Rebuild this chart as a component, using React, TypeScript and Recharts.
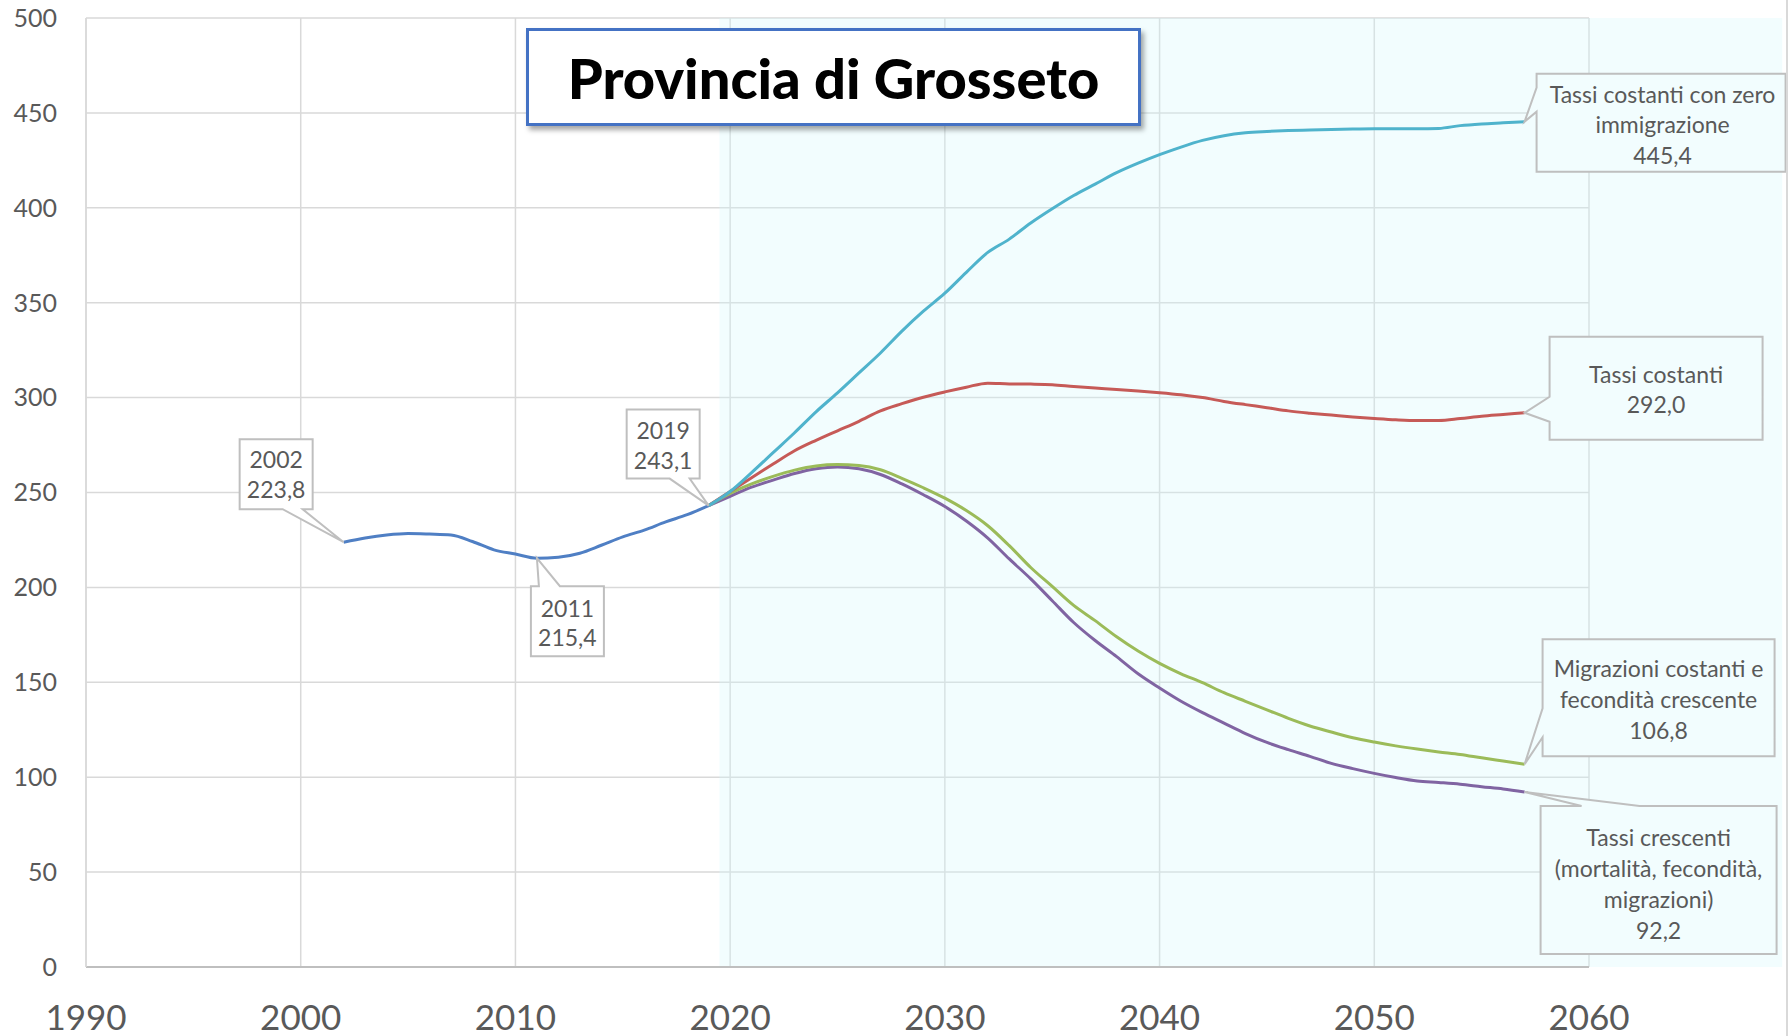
import React from 'react';
import { LineChart, Line, XAxis, YAxis, CartesianGrid, ReferenceArea } from 'recharts';

// anni e valori
const histYears = [2002, 2003, 2004, 2005, 2006, 2007, 2008, 2009, 2010, 2011, 2012, 2013, 2014, 2015, 2016, 2017, 2018, 2019];
const histValues = [223.8, 226.0, 227.6, 228.4, 228.1, 227.6, 224.2, 219.8, 217.6, 215.4, 215.9, 218.0, 222.2, 226.6, 230.2, 234.5, 238.3, 243.1];

const projYears = [
  2019, 2020, 2021, 2022, 2023, 2024, 2025, 2026, 2027, 2028, 2029, 2030, 2031, 2032, 2033, 2034, 2035, 2036, 2037, 2038,
  2039, 2040, 2041, 2042, 2043, 2044, 2045, 2046, 2047, 2048, 2049, 2050, 2051, 2052, 2053, 2054, 2055, 2056, 2057,
];
const zeroImmigrazione = [
  243.1, 250.5, 260.5, 271, 281.5, 292.5, 302.5, 313, 323.5, 335, 345.5, 355, 366, 376.5, 383.5, 392, 399.5, 406.5, 412.5, 418.5,
  423.5, 428, 432, 435.5, 438, 439.5, 440.2, 440.7, 441, 441.3, 441.5, 441.6, 441.6, 441.6, 441.8, 443.3, 444.2, 444.8, 445.4,
];
const tassiCostanti = [
  243.1, 250.5, 257.8, 265, 272, 277.5, 282.5, 287.5, 293, 296.8, 300.2, 303, 305.5, 307.6, 307.2, 307.1, 306.8, 305.8, 305, 304.3,
  303.5, 302.6, 301.5, 300, 298, 296.3, 294.7, 293, 291.8, 290.8, 289.8, 289, 288.3, 287.9, 288, 289, 290.2, 291.1, 292.0,
];
const migrazioniCostanti = [
  243.1, 249.5, 254.5, 258.5, 261.8, 264, 264.7, 264.2, 262, 257.5, 252.5, 247, 240.5, 232.5, 222, 210.5, 200.5, 190.5, 182.5, 174,
  166.5, 160, 154.5, 149.8, 144.5, 140, 135.5, 131, 127, 123.8, 120.8, 118.5, 116.5, 114.8, 113.3, 112, 110.2, 108.5, 106.8,
];
const tassiCrescenti = [
  243.1, 248, 252.8, 256.5, 260, 262.5, 263.5, 262.5, 259.5, 254.5, 248.8, 242.6, 235, 226, 215, 204.5, 193, 181.5, 172, 163.5,
  154.5, 147, 140, 134, 128.5, 123, 118.3, 114.5, 111, 107.3, 104.5, 102, 99.8, 98, 97.2, 96.3, 95, 93.8, 92.2,
];

const xTicks = [1990, 2000, 2010, 2020, 2030, 2040, 2050, 2060];
const yTicks = [0, 50, 100, 150, 200, 250, 300, 350, 400, 450, 500];

const seriesNames: Record<string, string[]> = {
  zero: ['Tassi costanti con zero', 'immigrazione'],
  cost: ['Tassi costanti'],
  migr: ['Migrazioni costanti e', 'fecondità crescente'],
  cresc: ['Tassi crescenti', '(mortalità, fecondità,', 'migrazioni)'],
};

const rows: any[] = [];
for (let yr = 2002; yr <= 2057; yr++) {
  const h = histYears.indexOf(yr);
  const p = projYears.indexOf(yr);
  rows.push({
    year: yr,
    storico: h >= 0 ? histValues[h] : null,
    zero: p >= 0 ? zeroImmigrazione[p] : null,
    cost: p >= 0 ? tassiCostanti[p] : null,
    migr: p >= 0 ? migrazioniCostanti[p] : null,
    cresc: p >= 0 ? tassiCrescenti[p] : null,
  });
}

const SHADE = '#F2FDFE';
const fmt = (v: number) => v.toFixed(1).replace('.', ',');

type Callout = {
  box: [number, number, number, number];
  side: 'top' | 'bottom' | 'left';
  a: number;
  b: number;
  cx: number;
  lineY: number[];
  fill: string;
};

// posizioni dei fumetti, relative al punto
const callouts: Record<string, Callout> = {
  'storico-2002': { box: [-104, -103, -31, -33], side: 'bottom', a: -61, b: -41, cx: -67.5, lineY: [-83, -53], fill: '#fff' },
  'storico-2011': { box: [-6, 28, 67, 98], side: 'top', a: 2, b: 23, cx: 30.5, lineY: [50, 79], fill: '#fff' },
  'storico-2019': { box: [-82, -96, -9, -27], side: 'bottom', a: -39, b: -19, cx: -45.5, lineY: [-76, -46], fill: '#fff' },
  'zero-2057': { box: [12, -48, 261, 50], side: 'left', a: -34, b: -10, cx: 138, lineY: [-28, 2, 33], fill: SHADE },
  'cost-2057': { box: [25, -76, 238, 27], side: 'left', a: -16, b: 9, cx: 131.5, lineY: [-39, -9], fill: SHADE },
  'migr-2057': { box: [18, -125, 250, -8], side: 'left', a: -56, b: -27, cx: 134, lineY: [-96, -65, -34], fill: SHADE },
  'cresc-2057': { box: [16, 14, 252, 162], side: 'top', a: 57, b: 115, cx: 134, lineY: [45, 76, 107, 138], fill: SHADE },
};

function calloutPath(x: number, y: number, c: Callout) {
  const [x1, y1, x2, y2] = [x + c.box[0], y + c.box[1], x + c.box[2], y + c.box[3]];
  const a = c.side === 'left' ? y + c.a : x + c.a;
  const b = c.side === 'left' ? y + c.b : x + c.b;
  if (c.side === 'bottom') {
    return `M${x1},${y1}L${x2},${y1}L${x2},${y2}L${b},${y2}L${x},${y}L${a},${y2}L${x1},${y2}Z`;
  }
  if (c.side === 'top') {
    return `M${x1},${y1}L${a},${y1}L${x},${y}L${b},${y1}L${x2},${y1}L${x2},${y2}L${x1},${y2}Z`;
  }
  return `M${x1},${y1}L${x2},${y1}L${x2},${y2}L${x1},${y2}L${x1},${b}L${x},${y}L${x1},${a}Z`;
}

const makeLabel = (key: string) => (props: any) => {
  const { x, y, index, value } = props;
  const row = rows[index];
  const c = row ? callouts[`${key}-${row.year}`] : undefined;
  if (!c || value == null || x == null || y == null) return <g key={`l-${key}-${index}`} />;
  const lines = key === 'storico' ? [String(row.year), fmt(value)] : [...seriesNames[key], fmt(value)];
  return (
    <g key={`l-${key}-${index}`}>
      <path d={calloutPath(x, y, c)} fill={c.fill} stroke="#BFBFBF" strokeWidth={2} />
      {lines.map((t, i) => (
        <text key={i} x={x + c.cx} y={y + c.lineY[i]} textAnchor="middle" dominantBaseline="central" fontSize={23} fill="#595959">
          {t}
        </text>
      ))}
    </g>
  );
};

export default function App() {
  return (
    <div style={{ position: 'absolute', left: 0, top: 0, width: 1789, height: 1036, background: '#fff', fontFamily: 'Lato' }}>
      <LineChart width={1789} height={1036} data={rows} margin={{ top: 18, right: 200, left: 6, bottom: 9 }}>
        <CartesianGrid stroke="#D9D9D9" strokeWidth={1.5} />
        <ReferenceArea x1={2019.5} x2={2069} y1={0} y2={500} fill="#D4F8FC" fillOpacity={0.3} stroke="none" ifOverflow="visible" />
        <XAxis
          dataKey="year"
          type="number"
          domain={[1990, 2060]}
          ticks={xTicks}
          tickLine={false}
          tickSize={0}
          tickMargin={38}
          height={60}
          stroke="#BFBFBF"
          strokeWidth={2}
          tick={{ fill: '#595959', fontSize: 35 }}
        />
        <YAxis
          type="number"
          domain={[0, 500]}
          ticks={yTicks}
          tickLine={false}
          tickSize={0}
          tickMargin={29}
          width={80}
          stroke="#D9D9D9"
          strokeWidth={1.5}
          tick={{ fill: '#595959', fontSize: 25 }}
        />
        <Line dataKey="storico" type="monotone" stroke="#4F7FC4" strokeWidth={3} dot={false} activeDot={false} isAnimationActive={false} label={makeLabel('storico')} />
        <Line dataKey="cresc" type="monotone" stroke="#8064A2" strokeWidth={3} dot={false} activeDot={false} isAnimationActive={false} label={makeLabel('cresc')} />
        <Line dataKey="migr" type="monotone" stroke="#9BBB59" strokeWidth={3} dot={false} activeDot={false} isAnimationActive={false} label={makeLabel('migr')} />
        <Line dataKey="cost" type="monotone" stroke="#C65A57" strokeWidth={3} dot={false} activeDot={false} isAnimationActive={false} label={makeLabel('cost')} />
        <Line dataKey="zero" type="monotone" stroke="#4FB3CC" strokeWidth={3} dot={false} activeDot={false} isAnimationActive={false} label={makeLabel('zero')} />
      </LineChart>
      <div
        style={{
          position: 'absolute',
          left: 526,
          top: 28,
          width: 609,
          height: 92,
          border: '3px solid #4472C4',
          background: '#fff',
          boxShadow: '3px 4px 5px rgba(0,0,0,0.35)',
          display: 'flex',
          alignItems: 'center',
          justifyContent: 'center',
          fontWeight: 900,
          fontSize: 56,
          color: '#000',
        }}
      >
        Provincia di Grosseto
      </div>
      <div style={{ position: 'absolute', left: 1786, top: 0, width: 2, height: 1036, background: '#D9D9D9' }} />
    </div>
  );
}
